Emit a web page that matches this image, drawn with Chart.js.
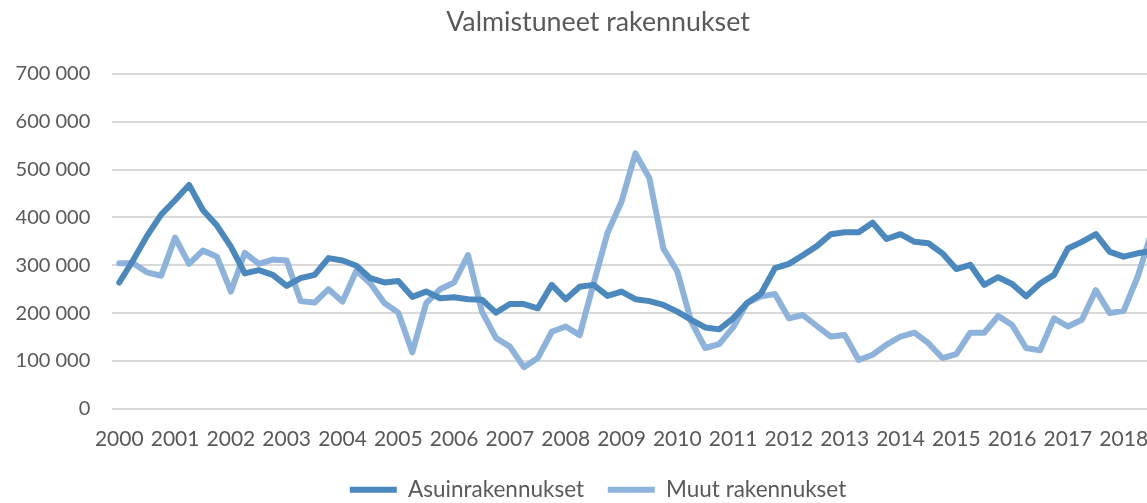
<!DOCTYPE html>
<html>
<head>
<meta charset="utf-8">
<title>Valmistuneet rakennukset</title>
<script src="https://cdn.jsdelivr.net/npm/chart.js@4/dist/chart.umd.min.js"></script>
<style>
  html, body { margin: 0; padding: 0; background: #fff; overflow: hidden; }
  #wrap { width: 1196px; height: 511px; position: relative; }
</style>
</head>
<body>
<div id="wrap"><canvas id="chart"></canvas></div>
<script>
// quarterly data 2000Q1 .. 2018Q3
var years = [2000, 2001, 2002, 2003, 2004, 2005, 2006, 2007, 2008, 2009,
             2010, 2011, 2012, 2013, 2014, 2015, 2016, 2017, 2018];
var quarters = ["Q1", "Q2", "Q3", "Q4"];

var asuinrakennukset = [
    264000, 311000, 362000, 406000, 436000, 468000, 415000, 383000, 339000, 283000,
    290000, 280000, 257000, 273000, 280000, 315000, 310000, 299000, 273000, 264000,
    267000, 234000, 245000, 231000, 233000, 229000, 228000, 201000, 219000, 219000,
    210000, 259000, 229000, 255000, 259000, 236000, 245000, 229000, 225000, 217000,
    203000, 186000, 170000, 166000, 189000, 221000, 241000, 294000, 303000, 321000,
    340000, 365000, 369000, 369000, 389000, 355000, 365000, 349000, 346000, 325000,
    292000, 301000, 259000, 275000, 261000, 235000, 262000, 280000, 335000, 349000,
    365000, 328000, 318000, 325000, 330000
];
var muutRakennukset = [
    304000, 304000, 285000, 278000, 358000, 303000, 331000, 318000, 245000, 326000,
    303000, 312000, 310000, 225000, 222000, 250000, 224000, 289000, 262000, 221000,
    201000, 118000, 221000, 250000, 264000, 321000, 203000, 148000, 130000, 87000,
    106000, 161000, 172000, 154000, 262000, 368000, 433000, 534000, 482000, 335000,
    287000, 182000, 127000, 135000, 170000, 221000, 235000, 240000, 189000, 196000,
    173000, 151000, 154000, 102000, 113000, 134000, 151000, 159000, 137000, 106000,
    114000, 159000, 159000, 194000, 175000, 127000, 122000, 189000, 172000, 186000,
    248000, 200000, 205000, 276000, 370000
];

var labels = [];
years.forEach(function(y) {
    quarters.forEach(function(q) {
        if (labels.length < asuinrakennukset.length) labels.push(y + q);
    });
});

var textColor = "#595959";
var fontFamily = "Lato, 'Open Sans', sans-serif";

function fmt(v) { return String(v).replace(/\B(?=(\d{3})+(?!\d))/g, " "); }

new Chart(document.getElementById("chart"), {
    type: "line",
    data: {
        labels: labels,
        datasets: [
            { label: "Asuinrakennukset", data: asuinrakennukset, borderColor: "#4a88bd", backgroundColor: "#4a88bd", borderWidth: 6, pointRadius: 0, tension: 0, borderJoinStyle: "round", borderCapStyle: "round" },
            { label: "Muut rakennukset", data: muutRakennukset, borderColor: "#8db3dd", backgroundColor: "#8db3dd", borderWidth: 6, pointRadius: 0, tension: 0, borderJoinStyle: "round", borderCapStyle: "round" },
        ],
    },
    options: {
        animation: false,
        responsive: true,
        maintainAspectRatio: false,
        layout: { padding: 0 },
        scales: {
            x: {
                offset: true,
                grid: { display: false, drawTicks: false },
                border: { display: false },
                ticks: {
                    autoSkip: false, maxRotation: 0, padding: 18, color: textColor,
                    font: { family: fontFamily, size: 21 },
                    callback: function(v, i) { var l = labels[i]; return l.slice(4) === "Q1" ? l.slice(0, 4) : ""; },
                },
                afterFit: function(s) { s.height = 46; },
            },
            y: {
                min: 0, max: 700000,
                grid: { color: "#d9d9d9", lineWidth: 2, drawTicks: false },
                border: { display: false },
                ticks: { stepSize: 100000, padding: 22, color: textColor, font: { family: fontFamily, size: 20 }, callback: function(v) { return fmt(v); } },
                afterFit: function(s) { s.width = 112.3; },
            },
            yRight: {
                position: "right",
                grid: { display: false, drawTicks: false },
                border: { display: false },
                ticks: { display: false },
                afterFit: function(s) { s.width = 37.4; },
            },
        },
        plugins: {
            title: {
                display: true, text: "Valmistuneet rakennukset", color: textColor,
                font: { family: fontFamily, size: 26.8, weight: "normal" },
                padding: { top: 5.9, bottom: 35.9 },
            },
            legend: {
                position: "bottom",
                labels: {
                    color: textColor, font: { family: fontFamily, size: 22.5 },
                    boxWidth: 47, boxHeight: 6, padding: 23.75,
                    generateLabels: function(chart) {
                        return chart.data.datasets.map(function(ds, i) {
                            return { text: ds.label, fillStyle: ds.borderColor, strokeStyle: ds.borderColor, lineWidth: 0, fontColor: textColor, datasetIndex: i, hidden: false };
                        });
                    },
                },
            },
            tooltip: { enabled: false },
        },
    },
});
</script>
</body>
</html>
